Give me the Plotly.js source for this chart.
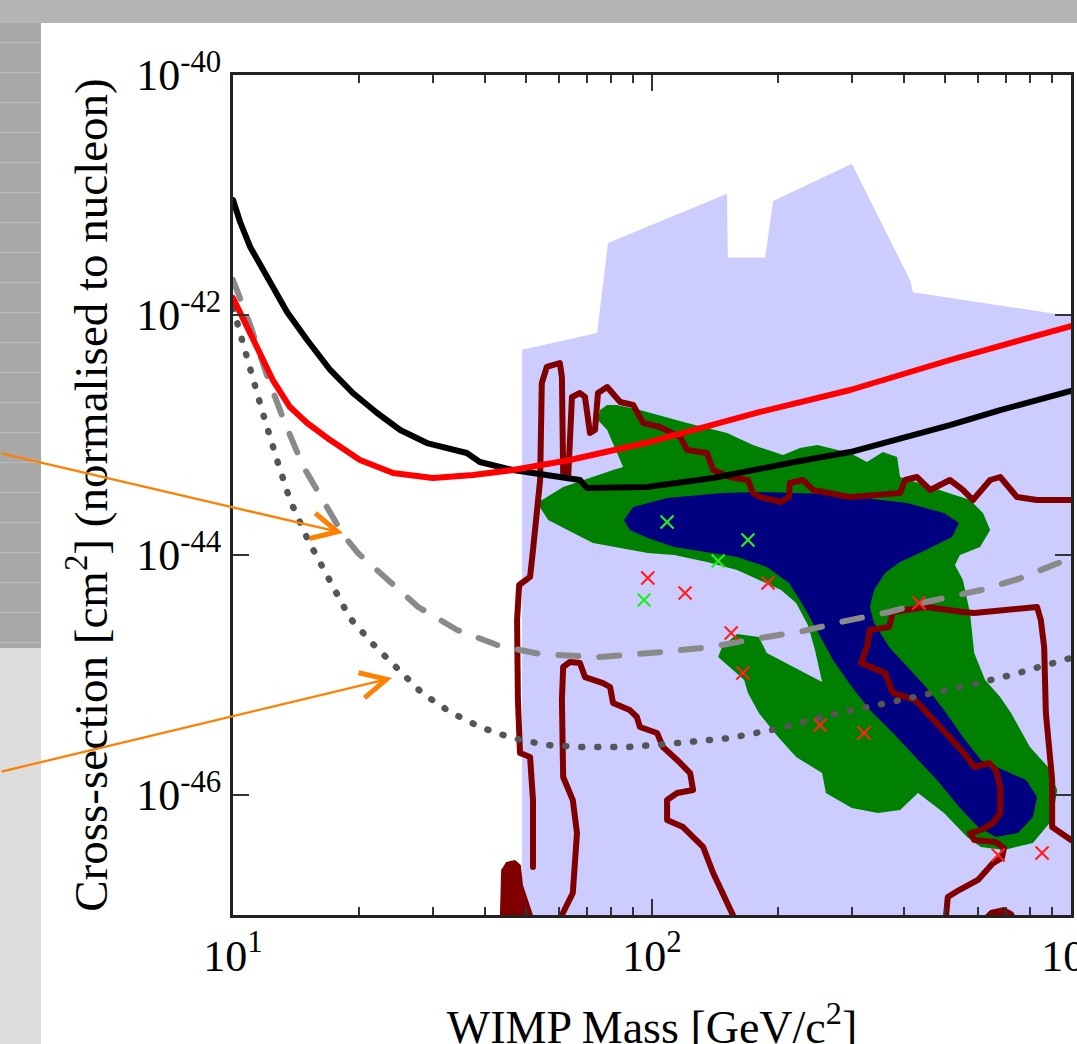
<!DOCTYPE html>
<html><head><meta charset="utf-8">
<script src="https://cdn.plot.ly/plotly-3.0.1.min.js"></script>
<style>
html,body{margin:0;padding:0;width:1077px;height:1044px;overflow:hidden;background:#fff;}
#bgTop{position:absolute;left:0;top:0;width:1077px;height:23px;background:#b4b4b4;}
#bgLeft{position:absolute;left:0;top:23px;width:41px;height:625px;background:repeating-linear-gradient(to bottom,#a9a9a9 0px,#a9a9a9 19px,#bdbdbd 19px,#bdbdbd 20px,#a9a9a9 20px,#a9a9a9 30px);}
#bgLeft2{position:absolute;left:0;top:648px;width:41px;height:396px;background:#dddddd;}
#chart{position:absolute;left:0;top:0;width:1077px;height:1044px;}
</style></head>
<body>
<div id="bgTop"></div><div id="bgLeft"></div><div id="bgLeft2"></div>
<div id="chart"></div>
<script>
// All values: log10(WIMP mass / GeV c^-2) and log10(cross-section / cm^2)
const blueMassLog  = [1.690,1.690,1.869,1.895,2.179,2.181,2.270,2.289,2.477,2.616,2.623,3.000,3.000];
const blueSigmaLog = [-47.0,-42.29,-42.15,-41.40,-40.99,-41.52,-41.52,-41.05,-40.74,-41.71,-41.81,-42.01,-47.0];

const greenMassLog  = [1.726,1.788,1.907,1.931,1.893,1.871,1.876,1.893,1.916,1.971,2.084,2.179,2.241,2.313,2.353,2.394,2.473,2.513,2.551,2.585,2.592,2.664,2.759,2.790,2.807,2.783,2.735,2.723,2.742,2.759,2.769,2.795,2.831,2.857,2.902,2.945,2.967,2.955,2.909,2.840,2.785,2.752,2.697,2.635,2.592,2.539,2.477,2.415,2.406,2.344,2.301,2.255,2.229,2.220,2.158,2.167,2.203,2.255,2.274,2.406,2.389,2.372,2.344,2.308,2.255,2.203,2.131,2.053,1.990,1.859,1.752];
const greenSigmaLog = [-43.567,-43.433,-43.292,-43.267,-42.958,-42.875,-42.792,-42.75,-42.75,-42.792,-42.9,-42.983,-43.083,-43.167,-43.108,-43.083,-43.15,-43.225,-43.142,-43.183,-43.35,-43.433,-43.542,-43.65,-43.792,-43.933,-44.0,-44.083,-44.208,-44.483,-44.817,-45.042,-45.183,-45.317,-45.6,-45.767,-45.958,-46.208,-46.4,-46.458,-46.433,-46.35,-46.15,-45.983,-46.125,-46.15,-46.108,-45.983,-45.817,-45.683,-45.517,-45.317,-45.15,-45.042,-44.85,-44.767,-44.658,-44.683,-44.817,-45.058,-44.792,-44.583,-44.4,-44.292,-44.208,-44.125,-44.058,-44.0,-43.983,-43.9,-43.708];

const navyMassLog  = [1.933,1.955,2.036,2.167,2.255,2.425,2.609,2.697,2.733,2.716,2.654,2.592,2.556,2.530,2.520,2.530,2.566,2.609,2.654,2.697,2.742,2.785,2.840,2.893,2.919,2.909,2.874,2.821,2.778,2.733,2.680,2.628,2.575,2.520,2.477,2.432,2.396,2.363,2.327,2.274,2.203,2.131,2.053,1.990,1.947];
const navySigmaLog = [-43.708,-43.6,-43.525,-43.483,-43.475,-43.492,-43.567,-43.65,-43.733,-43.85,-43.958,-44.058,-44.15,-44.292,-44.433,-44.567,-44.767,-44.933,-45.1,-45.292,-45.517,-45.708,-45.792,-45.875,-46.017,-46.183,-46.317,-46.35,-46.267,-46.1,-45.875,-45.683,-45.483,-45.292,-45.1,-44.875,-44.65,-44.433,-44.233,-44.1,-44.017,-43.975,-43.933,-43.858,-43.792];

const contourAMassLog  = [1.716,1.716,1.709,1.685,1.680,1.678,1.683,1.709,1.716,1.726,1.733,1.737,1.749,1.780,1.785,1.788,1.800,1.809,1.828,1.840,1.852,1.864,1.871,1.893,1.907,1.924,1.955,1.971,1.979,2.019,2.067,2.084,2.131,2.146,2.186,2.229,2.241,2.258,2.308,2.327,2.329,2.360,2.384,2.473,2.592,2.604,2.632,2.664,2.711,2.742,2.766,2.807,2.831,2.871,2.919,3.0];
const contourASigmaLog = [-46.6,-46.042,-45.683,-45.65,-45.208,-44.542,-44.25,-44.183,-43.958,-43.65,-43.375,-42.567,-42.433,-42.4,-42.517,-43.317,-43.35,-42.683,-42.65,-42.683,-42.983,-42.958,-42.65,-42.6,-42.65,-42.725,-42.75,-42.85,-42.9,-42.933,-43.017,-43.125,-43.15,-43.292,-43.35,-43.375,-43.483,-43.517,-43.558,-43.517,-43.4,-43.375,-43.458,-43.517,-43.483,-43.375,-43.35,-43.458,-43.375,-43.458,-43.542,-43.375,-43.35,-43.517,-43.542,-43.542];

const contourBMassLog  = [2.702,2.706,2.733,2.778,2.814,2.835,2.840,2.821,2.769,2.759,2.785,2.814,2.831,2.831,2.821,2.804,2.769,2.752,2.723,2.680,2.654,2.628,2.575,2.556,2.499,2.513,2.520,2.566,2.575,2.654,2.742,2.769,2.919,2.928,2.936,2.940,2.955,2.955,3.0];
const contourBSigmaLog = [-47.0,-46.85,-46.792,-46.708,-46.567,-46.525,-46.442,-46.392,-46.375,-46.317,-46.292,-46.233,-46.15,-45.933,-45.792,-45.733,-45.767,-45.683,-45.567,-45.4,-45.317,-45.208,-45.15,-44.983,-44.9,-44.767,-44.625,-44.6,-44.475,-44.433,-44.475,-44.483,-44.433,-44.542,-44.767,-45.317,-45.875,-46.267,-46.375];

const contourCMassLog  = [1.785,1.811,1.821,1.811,1.788,1.785,1.788,1.804,1.828,1.840,1.883,1.900,1.907,1.947,1.964,1.971,2.012,2.026,2.060,2.091,2.098,2.060,2.036,2.036,2.074,2.122,2.146,2.169,2.193];
const contourCSigmaLog = [-47.0,-46.817,-46.317,-46.042,-45.85,-45.208,-44.933,-44.892,-44.9,-45.017,-45.067,-45.1,-45.233,-45.292,-45.35,-45.433,-45.483,-45.6,-45.708,-45.817,-45.958,-45.983,-46.042,-46.208,-46.267,-46.433,-46.65,-46.817,-47.0];

const blobMassLog  = [1.637,1.640,1.652,1.673,1.687,1.692,1.716];
const blobSigmaLog = [-47.0,-46.625,-46.558,-46.542,-46.583,-46.75,-47.0];
const bumpMassLog  = [2.795,2.807,2.840,2.862,2.866];
const bumpSigmaLog = [-47.0,-46.958,-46.933,-46.975,-47.0];

const blackMassLog  = [1.000,1.017,1.041,1.069,1.100,1.129,1.177,1.232,1.286,1.344,1.399,1.463,1.558,1.589,1.668,1.828,1.845,1.988,2.146,2.258,2.353,2.473,2.592,2.711,2.831,3.000];
const blackSigmaLog = [-41.042,-41.225,-41.433,-41.608,-41.792,-41.975,-42.208,-42.458,-42.65,-42.817,-42.958,-43.067,-43.15,-43.225,-43.292,-43.375,-43.442,-43.433,-43.358,-43.275,-43.217,-43.142,-43.033,-42.917,-42.792,-42.633];

const redMassLog  = [1.000,1.024,1.057,1.095,1.136,1.177,1.232,1.303,1.382,1.477,1.573,1.668,1.804,1.995,2.258,2.473,2.711,3.000];
const redSigmaLog = [-41.858,-42.042,-42.267,-42.542,-42.767,-42.9,-43.042,-43.208,-43.317,-43.358,-43.333,-43.292,-43.208,-43.058,-42.808,-42.625,-42.375,-42.092];

const dashedMassLog  = [1.000,1.041,1.084,1.122,1.167,1.220,1.263,1.298,1.358,1.442,1.535,1.637,1.733,1.876,2.026,2.138,2.258,2.363,2.451,2.566,2.654,2.785,2.874,3.000];
const dashedSigmaLog = [-41.708,-42.083,-42.533,-42.883,-43.258,-43.575,-43.833,-43.983,-44.175,-44.433,-44.625,-44.758,-44.825,-44.85,-44.808,-44.767,-44.692,-44.633,-44.558,-44.475,-44.392,-44.292,-44.2,-44.025];

const dottedMassLog  = [1.000,1.033,1.069,1.105,1.136,1.179,1.220,1.279,1.334,1.394,1.451,1.518,1.589,1.666,1.747,1.828,1.943,2.062,2.186,2.308,2.425,2.539,2.654,2.778,2.857,2.936,3.000];
const dottedSigmaLog = [-41.942,-42.358,-42.792,-43.208,-43.542,-43.875,-44.15,-44.525,-44.742,-44.942,-45.15,-45.308,-45.433,-45.525,-45.583,-45.6,-45.6,-45.567,-45.525,-45.442,-45.333,-45.25,-45.167,-45.067,-45.0,-44.925,-44.858];

const redPtsMassLog  = [1.990,2.079,2.277,2.189,2.217,2.401,2.506,2.637,2.826,2.931];
const redPtsSigmaLog = [-44.192,-44.317,-44.233,-44.65,-44.983,-45.417,-45.483,-44.4,-46.5,-46.483];
const greenPtsMassLog  = [2.036,2.229,2.158,1.981];
const greenPtsSigmaLog = [-43.725,-43.875,-44.05,-44.375];

const arrowTipMassLog  = [1.2625, 1.3795];
const arrowTipSigmaLog = [-43.817, -45.025];

const xTickVals = [10, 100, 1000];
const xTickText = ['10<sup>1</sup>', '10<sup>2</sup>', '10<sup>3</sup>'];
const yTickVals = [1e-40, 1e-42, 1e-44, 1e-46];
const yTickText = ['10<sup>-40</sup>', '10<sup>-42</sup>', '10<sup>-44</sup>', '10<sup>-46</sup>'];

const xTitle = 'WIMP Mass [GeV/c<sup>2</sup>]';
const yTitle = 'Cross-section [cm<sup>2</sup>] (normalised to nucleon)';

const P = v => Math.pow(10, v);
function area(xl, yl, color) {
  return {type:'scatter', mode:'lines', x:xl.map(P), y:yl.map(P), fill:'toself',
          fillcolor:color, line:{width:0, color:color}, hoverinfo:'skip', showlegend:false};
}
function curve(xl, yl, color, width, dash) {
  return {type:'scatter', mode:'lines', x:xl.map(P), y:yl.map(P),
          line:{color:color, width:width, dash:dash || 'solid'}, hoverinfo:'skip', showlegend:false};
}
function crosses(xl, yl, color) {
  return {type:'scatter', mode:'markers', x:xl.map(P), y:yl.map(P),
          marker:{symbol:'x-thin', size:13, color:color, line:{width:2.2, color:color}},
          hoverinfo:'skip', showlegend:false};
}

const traces = [
  area(blueMassLog, blueSigmaLog, '#ccccff'),
  area(greenMassLog, greenSigmaLog, '#008000'),
  area(navyMassLog, navySigmaLog, '#000080'),
  area(blobMassLog, blobSigmaLog, '#800000'),
  area(bumpMassLog, bumpSigmaLog, '#800000'),
  curve(contourAMassLog, contourASigmaLog, '#800000', 6),
  curve(contourBMassLog, contourBSigmaLog, '#800000', 6),
  curve(contourCMassLog, contourCSigmaLog, '#800000', 6),
  curve(dottedMassLog, dottedSigmaLog, '#555555', 6.5, '1px,15px'),
  curve(dashedMassLog, dashedSigmaLog, '#8a8a8a', 6, '20px,21px'),
  curve(blackMassLog, blackSigmaLog, '#000000', 6),
  curve(redMassLog, redSigmaLog, '#ff0000', 6),
  crosses(redPtsMassLog, redPtsSigmaLog, '#ff2020'),
  crosses(greenPtsMassLog, greenPtsSigmaLog, '#22ee22')
];

const fontFam = '"Liberation Serif", "DejaVu Serif", serif';
const axisCommon = {
  type:'log', tickmode:'array', ticklabeloverflow:'allow',
  ticks:'inside', ticklen:16, tickwidth:2, tickcolor:'#333',
  showline:true, linecolor:'#222', linewidth:3, mirror:'ticks',
  showgrid:false, zeroline:false, tickfont:{size:44, family:fontFam, color:'#000'}
};

const layout = {
  width:1077, height:1044,
  margin:{l:233, r:6, t:75, b:129, pad:0},
  paper_bgcolor:'rgba(0,0,0,0)', plot_bgcolor:'rgba(0,0,0,0)',
  showlegend:false,
  font:{family:fontFam, color:'#000'},
  xaxis:Object.assign({}, axisCommon, {
    range:[1,3], tickvals:xTickVals, ticktext:xTickText,
    minor:{ticks:'inside', ticklen:8, tickwidth:2, tickcolor:'#333', dtick:'D1', showgrid:false},
    title:{text:xTitle, font:{size:46, family:fontFam}, standoff:30}
  }),
  yaxis:Object.assign({}, axisCommon, {
    range:[-47,-40], tickvals:yTickVals, ticktext:yTickText,
    title:{text:yTitle, font:{size:47, family:fontFam}, standoff:14}
  }),
  annotations: arrowTipMassLog.map((m, i) => ({
    x:m, y:arrowTipSigmaLog[i], xref:'x', yref:'y',
    ax: i === 0 ? -353 : -402, ay: i === 0 ? -80 : 94, axref:'pixel', ayref:'pixel',
    text:'', showarrow:true, arrowhead:5, arrowsize:2.2, arrowwidth:2.3,
    arrowcolor:'#ff8000', standoff:0
  }))
};

Plotly.newPlot('chart', traces, layout, {staticPlot:true, displayModeBar:false}).then(() => {
  document.querySelectorAll('.scatterlayer .js-line').forEach(p => {
    p.style.strokeLinecap = 'round';
    p.style.strokeLinejoin = 'round';
  });
  // the x-axis title sits a little lower in the original than the margin constraint allows
  const xt = document.querySelector('.g-xtitle');
  if (xt) xt.setAttribute('transform', ((xt.getAttribute('transform') || '') + ' translate(0,9)').trim());
});
</script>
</body></html>
